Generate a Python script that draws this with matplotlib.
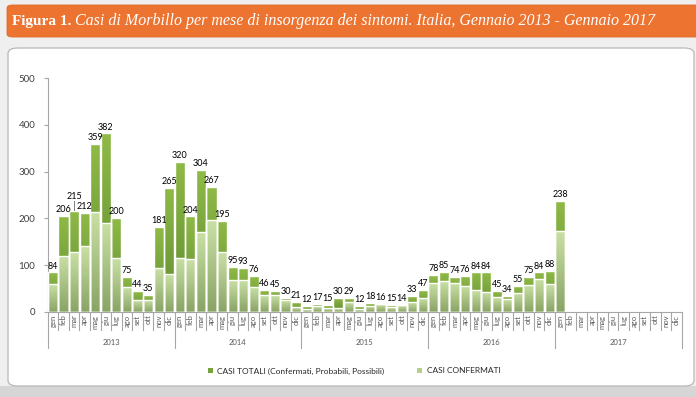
import numpy as np
import matplotlib
matplotlib.use('Agg')
from matplotlib import pyplot as plt
from matplotlib.colors import LinearSegmentedColormap
from matplotlib.patches import FancyBboxPatch, Rectangle, Patch
from matplotlib.transforms import blended_transform_factory


months = ['gen', 'feb', 'mar', 'apr', 'mag', 'giu', 'lug', 'ago', 'set', 'ott', 'nov', 'dic']
years = ['2013', '2014', '2015', '2016', '2017']

# casi totali (confermati, probabili, possibili), gen 2013 - gen 2017
totali = [84, 206, 215, 212, 359, 382, 200, 75, 44, 35, 181, 265,
          320, 204, 304, 267, 195, 95, 93, 76, 46, 45, 30, 21,
          12, 17, 15, 30, 29, 12, 18, 16, 15, 14, 33, 47,
          78, 85, 74, 76, 84, 84, 45, 34, 55, 75, 84, 88,
          238]
# casi confermati
confermati = [59, 120, 127, 141, 214, 191, 114, 52, 25, 25, 93, 80,
              116, 112, 171, 196, 127, 68, 68, 53, 36, 35, 25, 9,
              5, 12, 7, 8, 20, 5, 13, 16, 10, 14, 21, 29,
              61, 66, 61, 56, 46, 43, 31, 27, 41, 57, 69, 59,
              173]

TOT_TOP, TOT_BOTTOM = '#8fba47', '#5f8a2e'
CONF_TOP, CONF_BOTTOM = '#c9e0a5', '#89a464'
GRID_GREY = '#a6a6a6'
TEXT_GREY = '#404040'

plt.rcParams['font.family'] = ['Lato', 'DejaVu Sans']

fig = plt.figure(figsize=(6.96, 3.97), dpi=100)
fig.patch.set_facecolor('#efefef')

# darker strip at the very bottom
fig.patches.append(Rectangle((0, 0), 1, 11 / 397, transform=fig.transFigure,
                             facecolor='#d6d6d6', edgecolor='none', zorder=0))

# orange title banner
fig.patches.append(FancyBboxPatch((7 / 696, 1 - 37 / 397), 700 / 696, 32 / 397,
                                  boxstyle='round,pad=0,rounding_size=0.008',
                                  transform=fig.transFigure, facecolor='#ec7330',
                                  edgecolor='#e06a28', linewidth=0.6, zorder=1))
t1 = fig.text(12 / 696, 1 - 21 / 397, 'Figura 1.', color='white', fontsize=11,
              fontweight='bold', family='Liberation Serif', va='center', ha='left')
renderer = fig.canvas.get_renderer()
bb = t1.get_window_extent(renderer)
fig.text(bb.x1 / 696 + 4 / 696, 1 - 21 / 397,
         'Casi di Morbillo per mese di insorgenza dei sintomi. Italia, Gennaio 2013 - Gennaio 2017',
         color='white', fontsize=11.5, fontstyle='italic', family='Liberation Serif',
         va='center', ha='left')

# white rounded panel
fig.patches.append(FancyBboxPatch((8 / 696, 1 - 386 / 397), 686 / 696, 338 / 397,
                                  boxstyle='round,pad=0,rounding_size=0.014',
                                  transform=fig.transFigure, facecolor='white',
                                  edgecolor='#b8b8b8', linewidth=0.9, zorder=1))

ax = fig.add_axes([47.7 / 696, 1 - 311.7 / 397, 634 / 696, 233.4 / 397])
ax.set_facecolor('none')
ax.set_zorder(2)

n_cat = len(years) * len(months)
x = np.arange(len(totali))
width = 0.96
grad = np.linspace(0, 1, 64).reshape(-1, 1)
cmap_tot = LinearSegmentedColormap.from_list('tot', [TOT_BOTTOM, TOT_TOP])
cmap_conf = LinearSegmentedColormap.from_list('conf', [CONF_BOTTOM, CONF_TOP])

for values, cmap in ((totali, cmap_tot), (confermati, cmap_conf)):
    bars = ax.bar(x, values, width=width, facecolor='none', edgecolor='white',
                  linewidth=1.0, zorder=3)
    for bar in bars:
        x0, h = bar.get_x(), bar.get_height()
        im = ax.imshow(grad, extent=[x0, x0 + bar.get_width(), 0, h], origin='lower',
                       cmap=cmap, aspect='auto', interpolation='bicubic', zorder=2)
        im.set_clip_path(bar)

for i, v in enumerate(totali):
    lift = 4
    if i == 2:
        # crowded label: lift it with a small leader line, as in the original
        lift = 22
        ax.plot([i, i], [v + 2, v + lift], color='#7f7f7f', linewidth=0.7, zorder=4)
    ax.text(i, v + lift, str(v), ha='center', va='bottom', fontsize=6.5, color='black',
            zorder=4)

ax.set_xlim(-0.5, n_cat - 0.5)
ax.set_ylim(0, 500)
ax.set_yticks(range(0, 501, 100))
ax.tick_params(axis='y', labelsize=7, colors=TEXT_GREY, length=3, width=0.8,
               color=GRID_GREY, pad=6)
ax.set_xticks([])
for side in ('top', 'right'):
    ax.spines[side].set_visible(False)
for side in ('left', 'bottom'):
    ax.spines[side].set_color(GRID_GREY)
    ax.spines[side].set_linewidth(0.8)

# category axis: month labels, separators and year labels
trans = blended_transform_factory(ax.transData, ax.transAxes)
for k in range(n_cat + 1):
    bottom = -0.157 if k % 12 == 0 else -0.079
    ax.plot([k - 0.5, k - 0.5], [0, bottom], transform=trans, color=GRID_GREY,
            linewidth=0.8, clip_on=False, zorder=1)
for k in range(n_cat):
    ax.text(k, -0.012, months[k % 12], transform=trans, rotation=90, ha='center',
            va='top', fontsize=5.5, color='#595959')
for j, year in enumerate(years):
    ax.text(j * 12 + 5.5, -0.134, year, transform=trans, ha='center', va='center',
            fontsize=5.5, color='#595959')

# legend
handles = [Patch(facecolor='#77a33a', edgecolor='none'),
           Patch(facecolor='#b5cf8b', edgecolor='none')]
fig.legend(handles, ['CASI TOTALI (Confermati, Probabili, Possibili)', 'CASI CONFERMATI'],
           loc='center', bbox_to_anchor=(354 / 696, 1 - 371 / 397), ncol=2, frameon=False,
           fontsize=6, handlelength=0.6, handleheight=0.6, handletextpad=0.5,
           columnspacing=4, labelcolor='#262626')

fig.savefig('out.png', dpi=100, facecolor=fig.get_facecolor())
